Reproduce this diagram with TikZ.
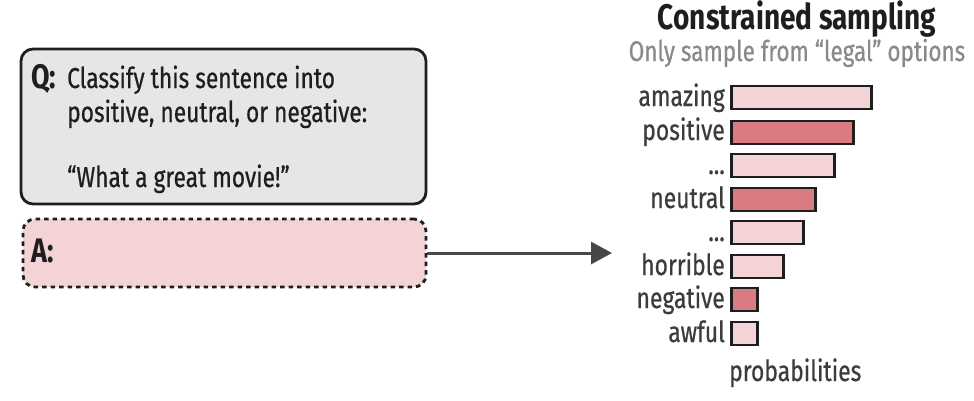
\documentclass[tikz,border=0pt]{standalone}
\usepackage{fontspec}
\setmainfont{Fira Sans}[FakeStretch=0.79, UprightFeatures={FakeBold=0.6}]
\usetikzlibrary{arrows.meta}
\definecolor{ink}{HTML}{1E1E1E}
\definecolor{labgray}{HTML}{3C3C3C}
\definecolor{subgray}{HTML}{8A8A8A}
\definecolor{qfill}{HTML}{E6E6E6}
\definecolor{afill}{HTML}{F4D3D6}
\definecolor{barlight}{HTML}{F4D3D6}
\definecolor{bardark}{HTML}{D97B80}
\definecolor{arrgray}{HTML}{474747}
\tikzset{
  qbox/.style={draw=ink, line width=2.8pt, fill=qfill, rounded corners=12pt, minimum width=405pt, minimum height=155pt, inner sep=0pt},
  abox/.style={draw=ink, line width=2.8pt, fill=afill, rounded corners=12pt, dash pattern=on 4.5pt off 4pt, minimum width=403pt, minimum height=68pt, inner sep=0pt},
  qtext/.style={text=ink, inner sep=0pt, anchor=base west, font=\fontsize{28.8}{33}\selectfont},
  qbold/.style={text=ink, inner sep=0pt, anchor=base west, font=\fontsize{34}{36}\selectfont\bfseries},
  bar/.style={draw=ink, line width=2.8pt, minimum height=23pt, inner sep=0pt, anchor=west},
  lab/.style={text=labgray, inner sep=0pt, anchor=base east, font=\fontsize{29}{30}\selectfont},
  arr/.style={draw=arrgray, line width=3pt, -{Triangle[length=21pt,width=22pt]}},
}
\begin{document}
\begin{tikzpicture}[x=1pt,y=-1pt]
\useasboundingbox (0,0) rectangle (974,400);
% question box
\node[qbox] (Q) at (223.5,126.5) {};
\node[qbold] (qlab) at (31,88) {Q:};
\node[qtext] (q1) at (67,88) {Classify this sentence into};
\node[qtext] (q2) at (67,122) {positive, neutral, or negative:};
\node[qtext] (q3) at (67,187) {“What a great movie!”};
% answer box
\node[abox] (A) at (224.5,253) {};
\node[qbold] (alab) at (31,262) {A:};
% arrow
\coordinate (tip) at (612,253);
\draw[arr] (A.east) -- (tip);
% title
\node[inner sep=0pt, anchor=base, text=ink, font=\fontsize{35.5}{38}\selectfont\bfseries] (title) at (797,29) {Constrained sampling};
\node[inner sep=0pt, anchor=base, text=subgray, font=\fontsize{28.5}{30}\selectfont] (sub) at (797,61) {Only sample from “legal” options};
% bars
\node[bar, fill=barlight, minimum width=140pt] (b1) at (730,97.5) {};
\node[bar, fill=bardark, minimum width=122pt] (b2) at (730,132.5) {};
\node[bar, fill=barlight, minimum width=103pt] (b3) at (730,165.5) {};
\node[bar, fill=bardark, minimum width=84pt] (b4) at (730,199.5) {};
\node[bar, fill=barlight, minimum width=72pt] (b5) at (730,232.5) {};
\node[bar, fill=barlight, minimum width=52pt] (b6) at (730,266.5) {};
\node[bar, fill=bardark, minimum width=26pt] (b7) at (730,299.5) {};
\node[bar, fill=barlight, minimum width=26pt] (b8) at (730,333.5) {};
\node[lab] (l1) at (725,106) {amazing};
\node[lab] (l2) at (725,140) {positive};
\node[lab] (l3) at (725,174) {...};
\node[lab] (l4) at (725,208) {neutral};
\node[lab] (l5) at (725,241) {...};
\node[lab] (l6) at (725,275) {horrible};
\node[lab] (l7) at (725,308) {negative};
\node[lab] (l8) at (725,342) {awful};
\node[inner sep=0pt, anchor=base west, text=labgray, font=\fontsize{29}{30}\selectfont] (prob) at (729,381) {probabilities};
\end{tikzpicture}
\end{document}
